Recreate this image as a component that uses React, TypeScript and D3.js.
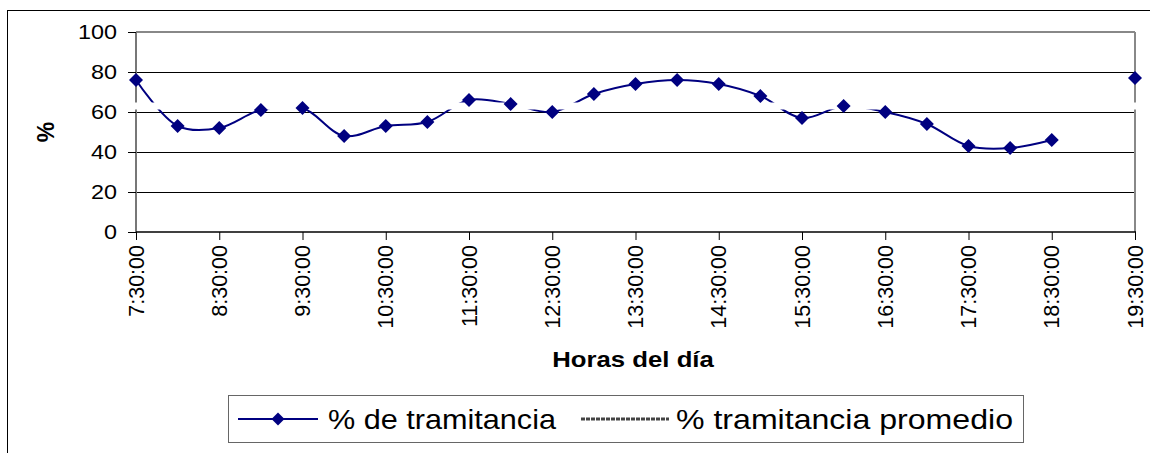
import React from "react";
import * as d3 from "d3";

const categories = [
  "7:30:00", "8:00:00", "8:30:00", "9:00:00", "9:30:00", "10:00:00", "10:30:00", "11:00:00",
  "11:30:00", "12:00:00", "12:30:00", "13:00:00", "13:30:00", "14:00:00", "14:30:00", "15:00:00",
  "15:30:00", "16:00:00", "16:30:00", "17:00:00", "17:30:00", "18:00:00", "18:30:00", "19:00:00",
  "19:30:00",
];
const tramitancia: (number | null)[] = [
  76, 53, 52, 61, 62, 48, 53, 55, 66, 64, 60, 69, 74, 76, 74, 68, 57, 63, 60, 54, 43, 42, 46, null, 77,
];
const promedio = 63;
const yTicks = [0, 20, 40, 60, 80, 100];
const tickLabels = categories.filter((_, i) => i % 2 === 0);
const seriesNames = ["% de tramitancia", "% tramitancia promedio"];

const W = 1150;
const H = 453;
const SX = 1.17;
const FONT = "Arial, 'Liberation Sans', sans-serif";

export default function App() {
  const x = d3.scalePoint<string>().domain(categories).range([136, 1135]);
  const y = d3.scaleLinear().domain([0, 100]).range([232, 32]);
  const pts = tramitancia.map((v, i) => ({ c: categories[i], v }));
  const line = d3
    .line<{ c: string; v: number | null }>()
    .defined((d) => d.v != null)
    .x((d) => x(d.c)!)
    .y((d) => y(d.v as number))
    .curve(d3.curveCatmullRom.alpha(0.5));
  const diamond = (cx: number, cy: number, r: number) =>
    `M${cx},${cy - r}L${cx + r},${cy}L${cx},${cy + r}L${cx - r},${cy}Z`;
  const x0 = x(categories[0])!;
  const x1 = x(categories[categories.length - 1])!;

  return (
    <svg width={W} height={H} style={{ position: "absolute", left: 0, top: 0, background: "#fff" }} fontFamily={FONT}>
      <rect x={7.5} y={10.5} width={1160} height={460} fill="#fff" stroke="#000" strokeWidth={1} />
      {/* grid */}
      {yTicks.filter((t) => t > 0 && t < 100).map((t) => (
        <line key={t} x1={x0} x2={x1} y1={y(t) + 0.5} y2={y(t) + 0.5} stroke="#000" strokeWidth={1} />
      ))}
      {/* plot border */}
      <line x1={x0} x2={x1} y1={y(100)} y2={y(100)} stroke="#888" strokeWidth={2} />
      <line x1={x1} x2={x1} y1={y(100)} y2={y(0)} stroke="#888" strokeWidth={2} />
      <line x1={x0} x2={x0} y1={y(100)} y2={y(0)} stroke="#777" strokeWidth={2} />
      <line x1={x0} x2={x1 + 1} y1={y(0)} y2={y(0)} stroke="#000" strokeWidth={1.5} />
      {/* y ticks */}
      {yTicks.map((t) => (
        <g key={t}>
          <line x1={128} x2={x0} y1={y(t) + 0.5} y2={y(t) + 0.5} stroke="#000" strokeWidth={1} />
          <g transform={`translate(117,${y(t) + 7}) scale(${SX},1)`}>
            <text textAnchor="end" fontSize={20} fill="#000">{t}</text>
          </g>
        </g>
      ))}
      {/* x ticks */}
      {tickLabels.map((c) => (
        <g key={c}>
          <line x1={x(c)! + 0.5} x2={x(c)! + 0.5} y1={y(0)} y2={y(0) + 8} stroke="#000" strokeWidth={1} />
          <text
            transform={`translate(${x(c)! + 7.5},245) rotate(-90)`}
            textAnchor="end"
            fontSize={21.5}
            fill="#000"
          >
            {c}
          </text>
        </g>
      ))}
      {/* axis titles */}
      <g transform={`translate(633,367) scale(${SX},1)`}>
        <text textAnchor="middle" fontSize={22} fontWeight="bold" fill="#000">Horas del día</text>
      </g>
      <text transform="translate(54,132) rotate(-90)" textAnchor="middle" fontSize={23} fontWeight="bold" fill="#000">%</text>
      {/* series */}
      <path d={line(pts) || ""} fill="none" stroke="#000080" strokeWidth={2} />
      <line x1={x0 - 1} x2={x1 + 2} y1={y(promedio)} y2={y(promedio)} stroke="#fff" strokeWidth={7} />
      {pts.filter((d) => d.v != null).map((d) => (
        <path key={d.c} d={diamond(x(d.c)!, y(d.v as number), 7)} fill="#000080" />
      ))}
      {/* legend */}
      <rect x={228.5} y={395.5} width={795} height={47} fill="#fff" stroke="#666" strokeWidth={1} />
      <line x1={238} x2={318} y1={419} y2={419} stroke="#000080" strokeWidth={2} />
      <path d={diamond(278, 419, 6.5)} fill="#000080" />
      <text x={328} y={429} fontSize={27.5} fill="#000" textLength={228} lengthAdjust="spacingAndGlyphs">{seriesNames[0]}</text>
      <line x1={581} x2={669} y1={419} y2={419} stroke="#444" strokeWidth={3} strokeDasharray="4 1" />
      <text x={676} y={429} fontSize={27.5} fill="#000" textLength={337} lengthAdjust="spacingAndGlyphs">{seriesNames[1]}</text>
    </svg>
  );
}
